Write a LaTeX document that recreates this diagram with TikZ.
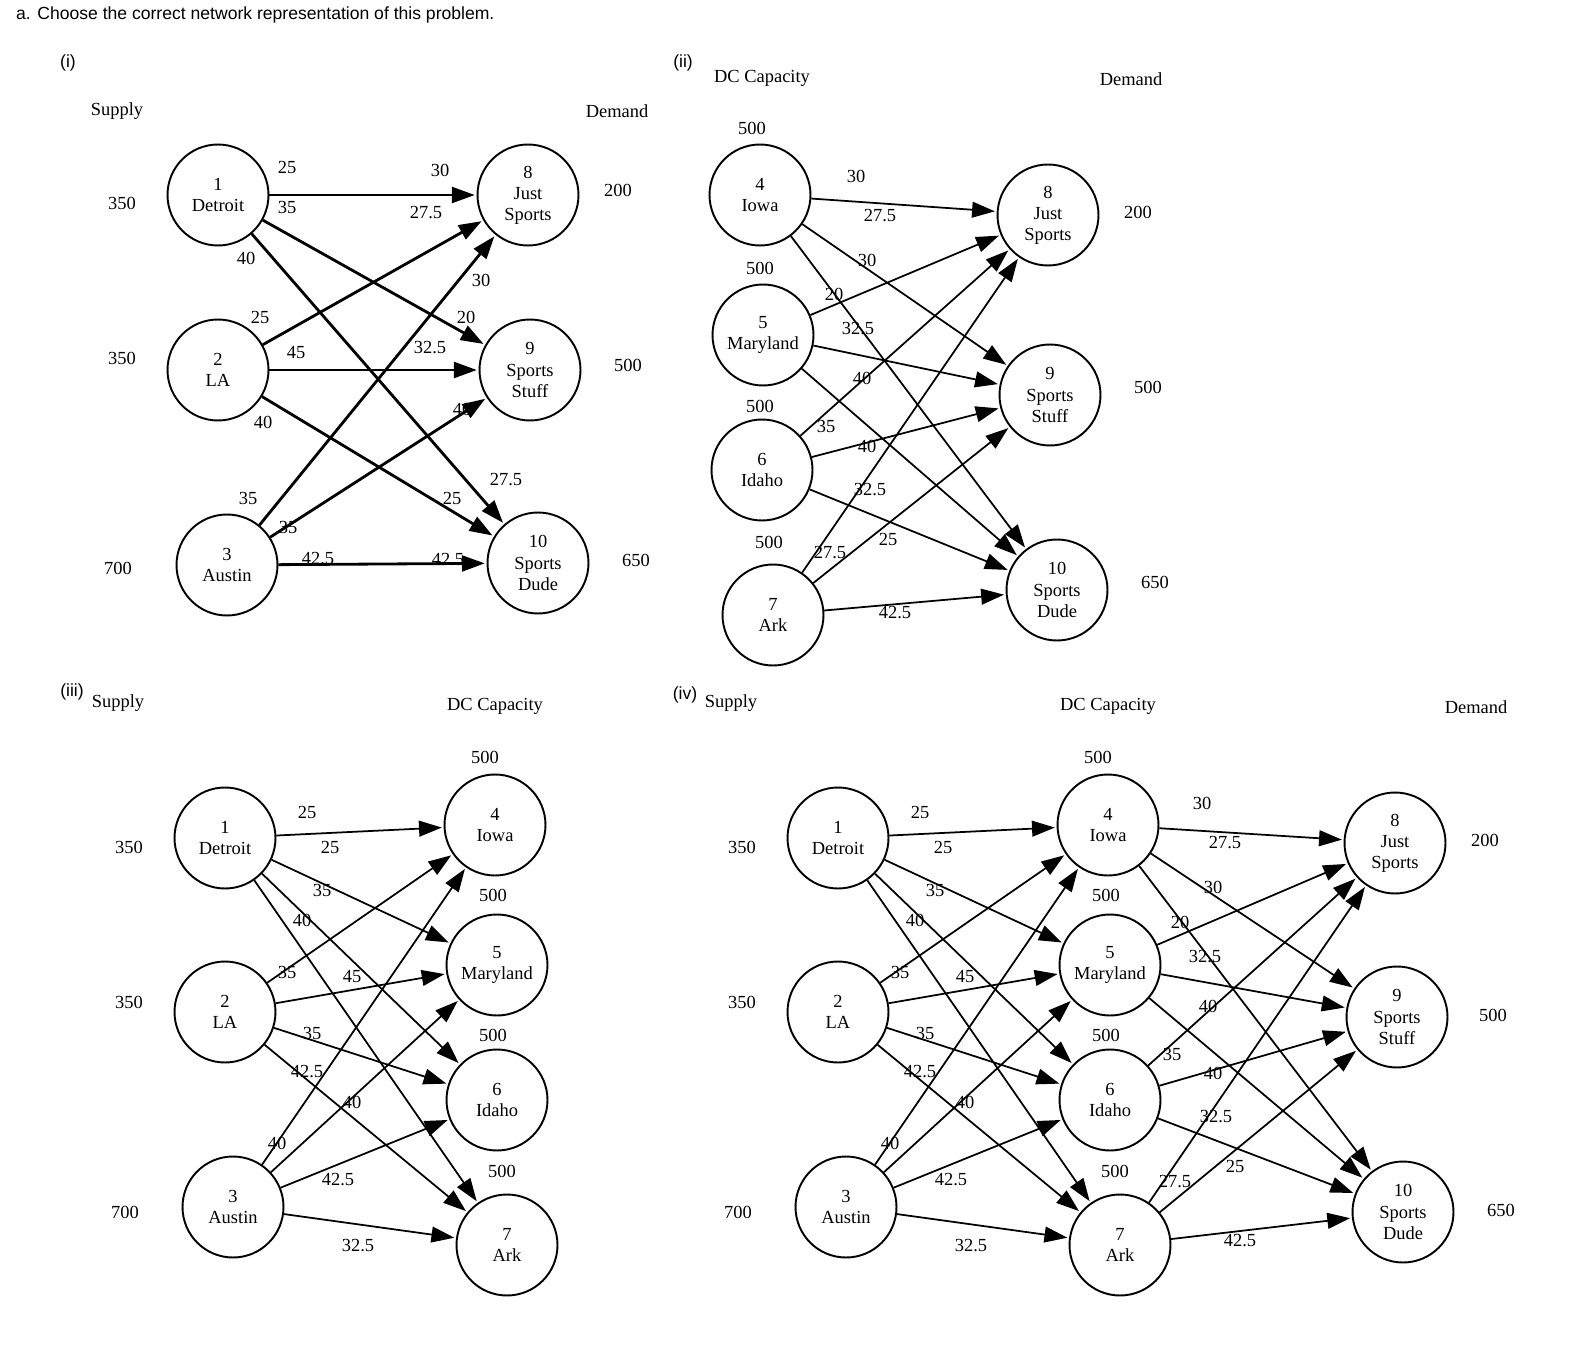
\documentclass[tikz,border=0pt]{standalone}
\usepackage{fontspec}
\setmainfont{Liberation Serif}
\newfontfamily\sansf{Liberation Sans}
\usetikzlibrary{arrows.meta}
\begin{document}
\begin{tikzpicture}[x=0.02cm,y=-0.02cm,
  nd/.style={circle,draw,line width=1.1pt,minimum size=2.02cm,inner sep=0pt,align=center,font=\fontsize{10.5}{12}\selectfont},
  lb/.style={font=\fontsize{10.5}{12}\selectfont,inner sep=1pt},
  ed/.style={line width=1pt,-{Triangle[length=13pt,width=9pt]},shorten >=1pt},
  edt/.style={ed,line width=1.6pt}]
\useasboundingbox (0,0) rectangle (1596,1348);
\node[anchor=west,font=\sansf\fontsize{10}{12}\selectfont] (title) at (10,15) {a. Choose the correct network representation of this problem.};
\foreach \n/\t/\x/\y in {pi/(i)/68/63,pii/(ii)/683/63,piii/(iii)/72/692,piv/(iv)/685/695}
  \node[font=\sansf\fontsize{10}{12}\selectfont] (\n) at (\x,\y) {\t};
% ---------- (i)
\node[nd] (a1) at (218,195) {1\\Detroit};
\node[nd] (a2) at (218,370) {2\\LA};
\node[nd] (a3) at (227,565) {3\\Austin};
\node[nd] (a8) at (528,195) {8\\Just\\Sports};
\node[nd] (a9) at (530,370) {9\\Sports\\Stuff};
\node[nd] (a10) at (538,563) {10\\Sports\\Dude};
\foreach \s in {1,2,3}\foreach \t in {8,9,10} \draw[edt] (a\s) -- (a\t);
\foreach \n/\t/\x/\y in {aS/Supply/117/111,aD/Demand/617/111,as1/350/122/203,as2/350/122/358,as3/700/118/568,ad1/200/618/190,ad2/500/628/365,ad3/650/636/560,
 e1/25/287/167,e2/30/440/170,e3/35/287/207,e4/27.5/426/213,e5/40/246/258,e6/30/481/280,e7/25/260/317,e8/20/466/317,e9/45/296/353,e10/32.5/430/348,e11/40/263/422,e12/40/462/409,e13/27.5/506/480,e14/35/248/498,e15/25/452/498,e16/35/288/527,e17/42.5/318/559,e18/42.5/448/560}
  \node[lb] (a\n) at (\x,\y) {\t};
% ---------- (ii)
\node[nd] (b4) at (760,195) {4\\Iowa};
\node[nd] (b5) at (763,335) {5\\Maryland};
\node[nd] (b6) at (762,470) {6\\Idaho};
\node[nd] (b7) at (773,615) {7\\Ark};
\node[nd] (b8) at (1048,215) {8\\Just\\Sports};
\node[nd] (b9) at (1050,395) {9\\Sports\\Stuff};
\node[nd] (b10) at (1057,590) {10\\Sports\\Dude};
\foreach \s in {4,5,6,7}\foreach \t in {8,9,10} \draw[ed] (b\s) -- (b\t);
\foreach \n/\t/\x/\y in {bC/DC Capacity/762/78,bD/Demand/1131/79,c1/500/752/128,c2/500/760/268,c3/500/760/406,c4/500/769/542,d1/200/1138/212,d2/500/1148/387,d3/650/1155/582,
 e1/30/856/176,e2/27.5/880/216,e3/30/867/260,e4/20/834/294,e5/32.5/858/329,e6/40/862/378,e7/35/826/426,e8/40/867/446,e9/32.5/870/490,e10/25/888/539,e11/27.5/830/553,e12/42.5/895/613}
  \node[lb] (b\n) at (\x,\y) {\t};
% ---------- (iii) and (iv) left part
\foreach \p/\dx in {c/0,d/613}{
  \node[nd] (\p1) at (225+\dx,838) {1\\Detroit};
  \node[nd] (\p2) at (225+\dx,1012) {2\\LA};
  \node[nd] (\p3) at (233+\dx,1207) {3\\Austin};
  \node[nd] (\p4) at (495+\dx,825) {4\\Iowa};
  \node[nd] (\p5) at (497+\dx,965) {5\\Maryland};
  \node[nd] (\p6) at (497+\dx,1100) {6\\Idaho};
  \node[nd] (\p7) at (507+\dx,1245) {7\\Ark};
  \foreach \s in {1,2,3}\foreach \t in {4,5,6,7} \draw[ed] (\p\s) -- (\p\t);
  \foreach \n/\t/\x/\y in {S/Supply/118/703,C/DC Capacity/495/706,k1/500/485/757,k2/500/493/895,k3/500/493/1035,k4/500/502/1171,s1/350/129/847,s2/350/129/1002,s3/700/125/1212,
   e1/25/307/812,e2/25/330/847,e3/35/322/890,e4/40/302/920,e5/35/287/972,e6/45/352/977,e7/35/312/1033,e8/42.5/307/1072,e9/40/277/1143,e10/40/352/1102,e11/42.5/338/1180,e12/32.5/358/1246}
    \node[lb] (\p\n) at (\x+\dx,\y) {\t};
}
% ---------- (iv) right part
\node[nd] (d8) at (1395,843) {8\\Just\\Sports};
\node[nd] (d9) at (1397,1017) {9\\Sports\\Stuff};
\node[nd] (d10) at (1403,1212) {10\\Sports\\Dude};
\foreach \s in {4,5,6,7}\foreach \t in {8,9,10} \draw[ed] (d\s) -- (d\t);
\foreach \n/\t/\x/\y in {D/Demand/1476/707,q1/200/1485/840,q2/500/1493/1015,q3/650/1501/1210,
 f1/30/1202/803,f2/27.5/1225/843,f3/30/1213/887,f4/20/1180/922,f5/32.5/1205/957,f6/40/1208/1006,f7/35/1172/1054,f8/40/1213/1073,f9/32.5/1216/1117,f10/25/1235/1166,f11/27.5/1175/1182,f12/42.5/1240/1241}
  \node[lb] (d\n) at (\x,\y) {\t};
\end{tikzpicture}
\end{document}
